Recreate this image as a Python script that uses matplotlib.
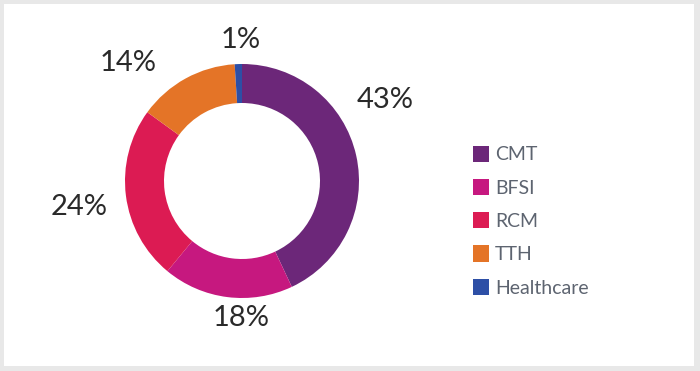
import numpy as np
import matplotlib.pyplot as plt
from matplotlib.patches import Rectangle

# data
segments = ["CMT", "BFSI", "RCM", "TTH", "Healthcare"]
shares = [43, 18, 24, 14, 1]
colors = ["#6c2779", "#c6187f", "#dc1b53", "#e47427", "#2d4fa6"]

# label placement (polar, relative to donut centre): angle in deg, radius in px
label_angle = [29.5, -90.4, 189.0, 134.0, 90.4]
label_radius = [164, 137, 165, 164, 141]

W, H = 700, 371
fig = plt.figure(figsize=(7, 3.71), dpi=100, facecolor="#e8e8e8")
fig.patches.append(Rectangle((4 / W, 5 / H), 690 / W, 362 / H,
                             transform=fig.transFigure, facecolor="white",
                             edgecolor="none", zorder=-10))

ax = fig.add_axes([0, 0, 1, 1])
ax.set_facecolor("none")
cx, cy, r = 242, H - 181, 117

wedges, _ = ax.pie(shares, colors=colors, startangle=90, counterclock=False,
                   center=(cx, cy), radius=r, frame=True,
                   wedgeprops=dict(width=39, edgecolor="none"))

for val, ang, rad in zip(shares, label_angle, label_radius):
    t = np.deg2rad(ang)
    ax.text(cx + rad * np.cos(t), cy + rad * np.sin(t), f"{val}%",
            ha="center", va="center", fontsize=21, color="#2a2a2a",
            family="Lato")

ax.set_xlim(0, W)
ax.set_ylim(0, H)
ax.set_aspect("equal")
ax.axis("off")

leg = fig.legend(wedges, segments, loc="upper left",
                 bbox_to_anchor=(455 / W, 1 - 128 / H),
                 frameon=False, handlelength=0.85,
                 handleheight=0.9, handletextpad=0.3, labelspacing=0.8,
                 prop=dict(family="Lato", size=14))
for txt in leg.get_texts():
    txt.set_color("#5d6470")

fig.savefig("out.png", dpi=100, facecolor=fig.get_facecolor())
